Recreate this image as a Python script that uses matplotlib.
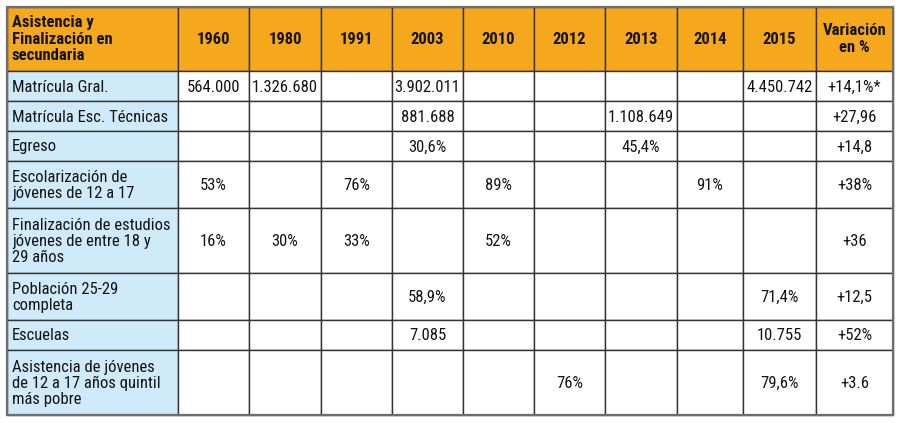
import matplotlib
matplotlib.use("Agg")
import matplotlib.pyplot as plt
from matplotlib.patches import Rectangle

# Table content
header_label = "Asistencia y\nFinalización en\nsecundaria"
years = ["1960", "1980", "1991", "2003", "2010", "2012", "2013", "2014", "2015"]
variation_header = "Variación\nen %"

row_labels = [
    "Matrícula Gral.",
    "Matrícula Esc. Técnicas",
    "Egreso",
    "Escolarización de\njóvenes de 12 a 17",
    "Finalización de estudios\njóvenes de entre 18 y\n29 años",
    "Población 25-29\ncompleta",
    "Escuelas",
    "Asistencia de jóvenes\nde 12 a 17 años quintil\nmás pobre",
]

# one list per row, following the year columns
matricula_gral = ["564.000", "1.326.680", "", "3.902.011", "", "", "", "", "4.450.742"]
matricula_tecnicas = ["", "", "", "881.688", "", "", "1.108.649", "", ""]
egreso = ["", "", "", "30,6%", "", "", "45,4%", "", ""]
escolarizacion = ["53%", "", "76%", "", "89%", "", "", "91%", ""]
finalizacion = ["16%", "30%", "33%", "", "52%", "", "", "", ""]
poblacion = ["", "", "", "58,9%", "", "", "", "", "71,4%"]
escuelas = ["", "", "", "7.085", "", "", "", "", "10.755"]
asistencia = ["", "", "", "", "", "76%", "", "", "79,6%"]

variation = ["+14,1%*", "+27,96", "+14,8", "+38%", "+36", "+12,5", "+52%", "+3.6"]

rows = [matricula_gral, matricula_tecnicas, egreso, escolarizacion,
        finalizacion, poblacion, escuelas, asistencia]

# Layout (pixels)
col_edges = [7, 178, 249, 321, 392, 463, 534, 605, 677, 743, 816, 893]
row_edges = [7, 71, 101, 131, 161, 208, 273, 320, 350, 415]

orange = "#F6A81D"
light_blue = "#CFEAF8"
line_color = "#333333"
text_color = "#141414"

plt.rcParams["font.family"] = ["Roboto Condensed", "DejaVu Sans"]

fig = plt.figure(figsize=(9, 4.23), dpi=100)
ax = fig.add_axes([0, 0, 1, 1])
ax.set_xlim(0, 900)
ax.set_ylim(423, 0)
ax.axis("off")

n_rows = len(row_edges) - 1
n_cols = len(col_edges) - 1

for r in range(n_rows):
    for c in range(n_cols):
        x0, x1 = col_edges[c], col_edges[c + 1]
        y0, y1 = row_edges[r], row_edges[r + 1]
        if r == 0:
            face = orange
        elif c == 0:
            face = light_blue
        else:
            face = "white"
        ax.add_patch(Rectangle((x0, y0), x1 - x0, y1 - y0, facecolor=face,
                               edgecolor=line_color, linewidth=1.0))

# outer frame
ax.add_patch(Rectangle((col_edges[0], row_edges[0]), col_edges[-1] - col_edges[0],
                       row_edges[-1] - row_edges[0], fill=False,
                       edgecolor="#6E6E6E", linewidth=1.6))


def cell_center(r, c):
    return ((col_edges[c] + col_edges[c + 1]) / 2, (row_edges[r] + row_edges[r + 1]) / 2)


fs = 12

# header
ax.text(col_edges[0] + 5, cell_center(0, 0)[1], header_label, ha="left", va="center",
        fontsize=fs, fontweight="bold", linespacing=1.1, color=text_color)
for i, y in enumerate(years):
    cx, cy = cell_center(0, i + 1)
    ax.text(cx, cy, y, ha="center", va="center", fontsize=fs, fontweight="bold", color=text_color)
cx, cy = cell_center(0, n_cols - 1)
ax.text(cx, cy, variation_header, ha="center", va="center", fontsize=fs,
        fontweight="bold", linespacing=1.1, color=text_color)

# body
for r, label in enumerate(row_labels):
    rr = r + 1
    ax.text(col_edges[0] + 5, cell_center(rr, 0)[1] + 1, label, ha="left", va="center",
            fontsize=fs, linespacing=1.1, color=text_color)
    for c, val in enumerate(rows[r]):
        if val:
            cx, cy = cell_center(rr, c + 1)
            ax.text(cx, cy + 1, val, ha="center", va="center", fontsize=fs, color=text_color)
    cx, cy = cell_center(rr, n_cols - 1)
    ax.text(cx, cy + 1, variation[r], ha="center", va="center", fontsize=fs, color=text_color)

fig.savefig("out.png", dpi=100)
